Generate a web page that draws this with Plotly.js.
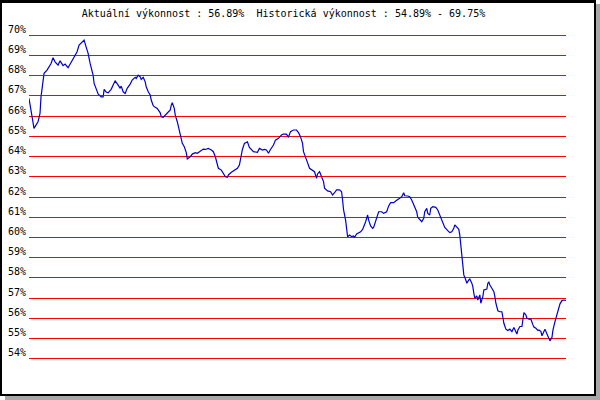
<!DOCTYPE html>
<html>
<head>
<meta charset="utf-8">
<script src="https://cdn.plot.ly/plotly-3.0.1.min.js"></script>
<style>
  html, body { margin: 0; padding: 0; background: #ffffff; }
  #wrap { position: relative; width: 600px; height: 400px; overflow: hidden; }
  #chart { position: absolute; left: 0; top: 0; width: 600px; height: 400px; }
  .frame { position: absolute; pointer-events: none; }
</style>
</head>
<body>
<div id="wrap">
  <div id="chart"></div>
  <div class="frame" style="left:0;top:0;width:592px;height:391px;border-top:3px solid #000;border-left:2px solid #000;border-right:2px solid #000;border-bottom:2px solid #000;"></div>
  <div class="frame" style="left:596px;top:4px;width:4px;height:396px;background:#a8a8a8;"></div>
  <div class="frame" style="left:5px;top:396px;width:595px;height:4px;background:#a8a8a8;"></div>
</div>
<script>
// Title parts
const currentPerf = "56.89%";
const histMin = "54.89%";
const histMax = "69.75%";

// Y tick values (percent)
const yTicks = [54,55,56,57,58,59,60,61,62,63,64,65,66,67,68,69,70];

// Day offsets of the observations
const days = [0,2,4,5,9,11,12,14,15,18,20,22,24,26,29,31,34,36,39,42,45,48,50,53,55,57,59,61,64,65,67,69,72,74,75,77,79,82,84,86,89,
91,92,94,96,98,101,103,106,107,109,111,112,114,116,117,119,121,122,124,126,128,131,132,134,136,139,141,142,143,145,146,148,150,152,153,155,157,158,161,163,166,168,171,174,176,179,
182,184,186,188,189,192,194,196,198,199,202,205,208,210,212,213,215,217,218,220,222,224,228,230,233,235,237,239,241,244,246,249,252,254,257,259,261,264,267,269,
271,273,274,276,278,280,283,285,287,288,290,292,294,295,298,301,303,305,307,310,312,313,314,316,317,318,320,322,324,325,327,329,331,333,334,336,338,339,341,343,344,346,348,349,352,354,357,359,
361,364,366,369,372,374,375,378,380,382,384,387,388,390,392,394,395,397,398,400,401,403,406,408,410,412,414,415,418,420,422,424,425,427,429,430,431,432,433,434,436,437,439,440,442,443,444,445,447,448,450,
451,453,454,457,458,459,460,462,464,465,466,468,470,472,473,474,476,478,480,482,484,485,487,488,490,492,493,494,496,497,499,501,503,504,506,508,509,511,512,514,515,517,519,520,522,523,525,527,529,530,532,534,536];

// Performance values (%)
const perf = [66.87,66.30,65.56,65.39,65.72,66.13,66.95,67.69,68.11,68.27,68.44,68.60,68.88,68.68,68.52,68.73,68.49,68.57,68.39,68.68,68.93,69.18,69.51,69.64,69.75,69.42,69.10,68.60,68.02,67.61,67.37,67.09,66.95,66.95,67.32,67.19,67.15,67.32,67.53,67.74,67.53,
67.37,67.48,67.20,67.12,67.37,67.58,67.78,67.91,67.86,68.02,67.94,67.81,67.91,67.69,67.45,67.20,67.04,66.79,66.51,66.43,66.38,66.16,65.97,65.94,66.05,66.16,66.30,66.54,66.66,66.38,66.05,65.72,65.31,64.90,64.65,64.48,64.19,63.88,63.99,64.12,64.19,64.16,64.27,64.37,64.35,64.40,
64.32,64.24,63.99,63.66,63.42,63.33,63.14,63.00,62.97,63.09,63.22,63.30,63.42,63.58,64.07,64.35,64.65,64.70,64.73,64.45,64.32,64.24,64.21,64.40,64.32,64.35,64.32,64.16,64.35,64.57,64.81,64.90,65.06,65.11,65.11,64.95,65.23,65.31,65.31,65.18,
64.98,64.65,64.24,63.91,63.70,63.42,63.30,63.25,62.92,63.14,63.25,63.04,62.76,62.43,62.30,62.26,62.10,62.21,62.35,62.35,62.26,61.85,61.36,60.86,60.37,60.04,60.12,60.04,60.07,60.01,60.17,60.21,60.28,60.40,60.50,60.78,61.11,60.86,60.57,60.45,60.50,60.78,61.03,61.27,61.27,61.19,61.27,61.56,
61.72,61.72,61.80,61.90,62.01,62.21,62.06,62.05,62.01,61.85,61.60,61.27,61.00,60.86,60.78,60.95,61.27,61.44,61.19,61.11,61.44,61.52,61.49,61.36,61.11,60.90,60.70,60.50,60.34,60.24,60.28,60.45,60.62,60.53,60.40,60.12,59.63,59.05,58.53,58.15,57.90,57.74,57.90,57.95,57.74,57.57,57.24,57.00,57.11,56.91,57.16,
56.75,57.08,57.41,57.45,57.74,57.79,57.65,57.49,57.32,57.08,56.75,56.38,56.33,56.33,56.01,55.76,55.47,55.40,55.47,55.35,55.55,55.43,55.23,55.43,55.60,55.60,55.93,56.29,56.17,56.01,55.96,55.96,55.68,55.57,55.51,55.40,55.43,55.35,55.14,55.35,55.47,55.23,54.99,54.89,55.07,55.43,55.84,56.17,56.45,56.72,56.88,56.91,56.89];

const titleText = "Aktuální výkonnost : " + currentPerf + " \u00A0Historická výkonnost : " + histMin + " - " + histMax;

const trace = {
  x: days,
  y: perf,
  type: "scatter",
  mode: "lines",
  line: { color: "#0000cc", width: 1.2 },
  hoverinfo: "skip"
};

const layout = {
  width: 600,
  height: 400,
  paper_bgcolor: "#ffffff",
  plot_bgcolor: "#ffffff",
  margin: { l: 29, r: 34, t: 25, b: 31, pad: 0 },
  showlegend: false,
  font: { family: "DejaVu Sans Mono, monospace", size: 10, color: "#000000" },
  title: {
    text: titleText,
    font: { family: "DejaVu Sans Mono, monospace", size: 10, color: "#000000" },
    xref: "container", yref: "container",
    x: 0.4725, xanchor: "center",
    y: 0.9675, yanchor: "middle"
  },
  xaxis: {
    range: [0, 536],
    showgrid: false, zeroline: false, showticklabels: false, ticks: "", showline: false,
    fixedrange: true
  },
  yaxis: {
    range: [53.5, 70.5],
    tickvals: yTicks,
    ticktext: yTicks.map(v => v + "%"),
    showgrid: true, gridcolor: "#ff0000", gridwidth: 1,
    zeroline: false, showline: false, ticks: "",
    ticklabelshift: -6,
    ticklabelstandoff: 2,
    tickfont: { family: "DejaVu Sans Mono, monospace", size: 10, color: "#000000" },
    fixedrange: true
  }
};

Plotly.newPlot("chart", [trace], layout, { staticPlot: true, displayModeBar: false });
</script>
</body>
</html>
